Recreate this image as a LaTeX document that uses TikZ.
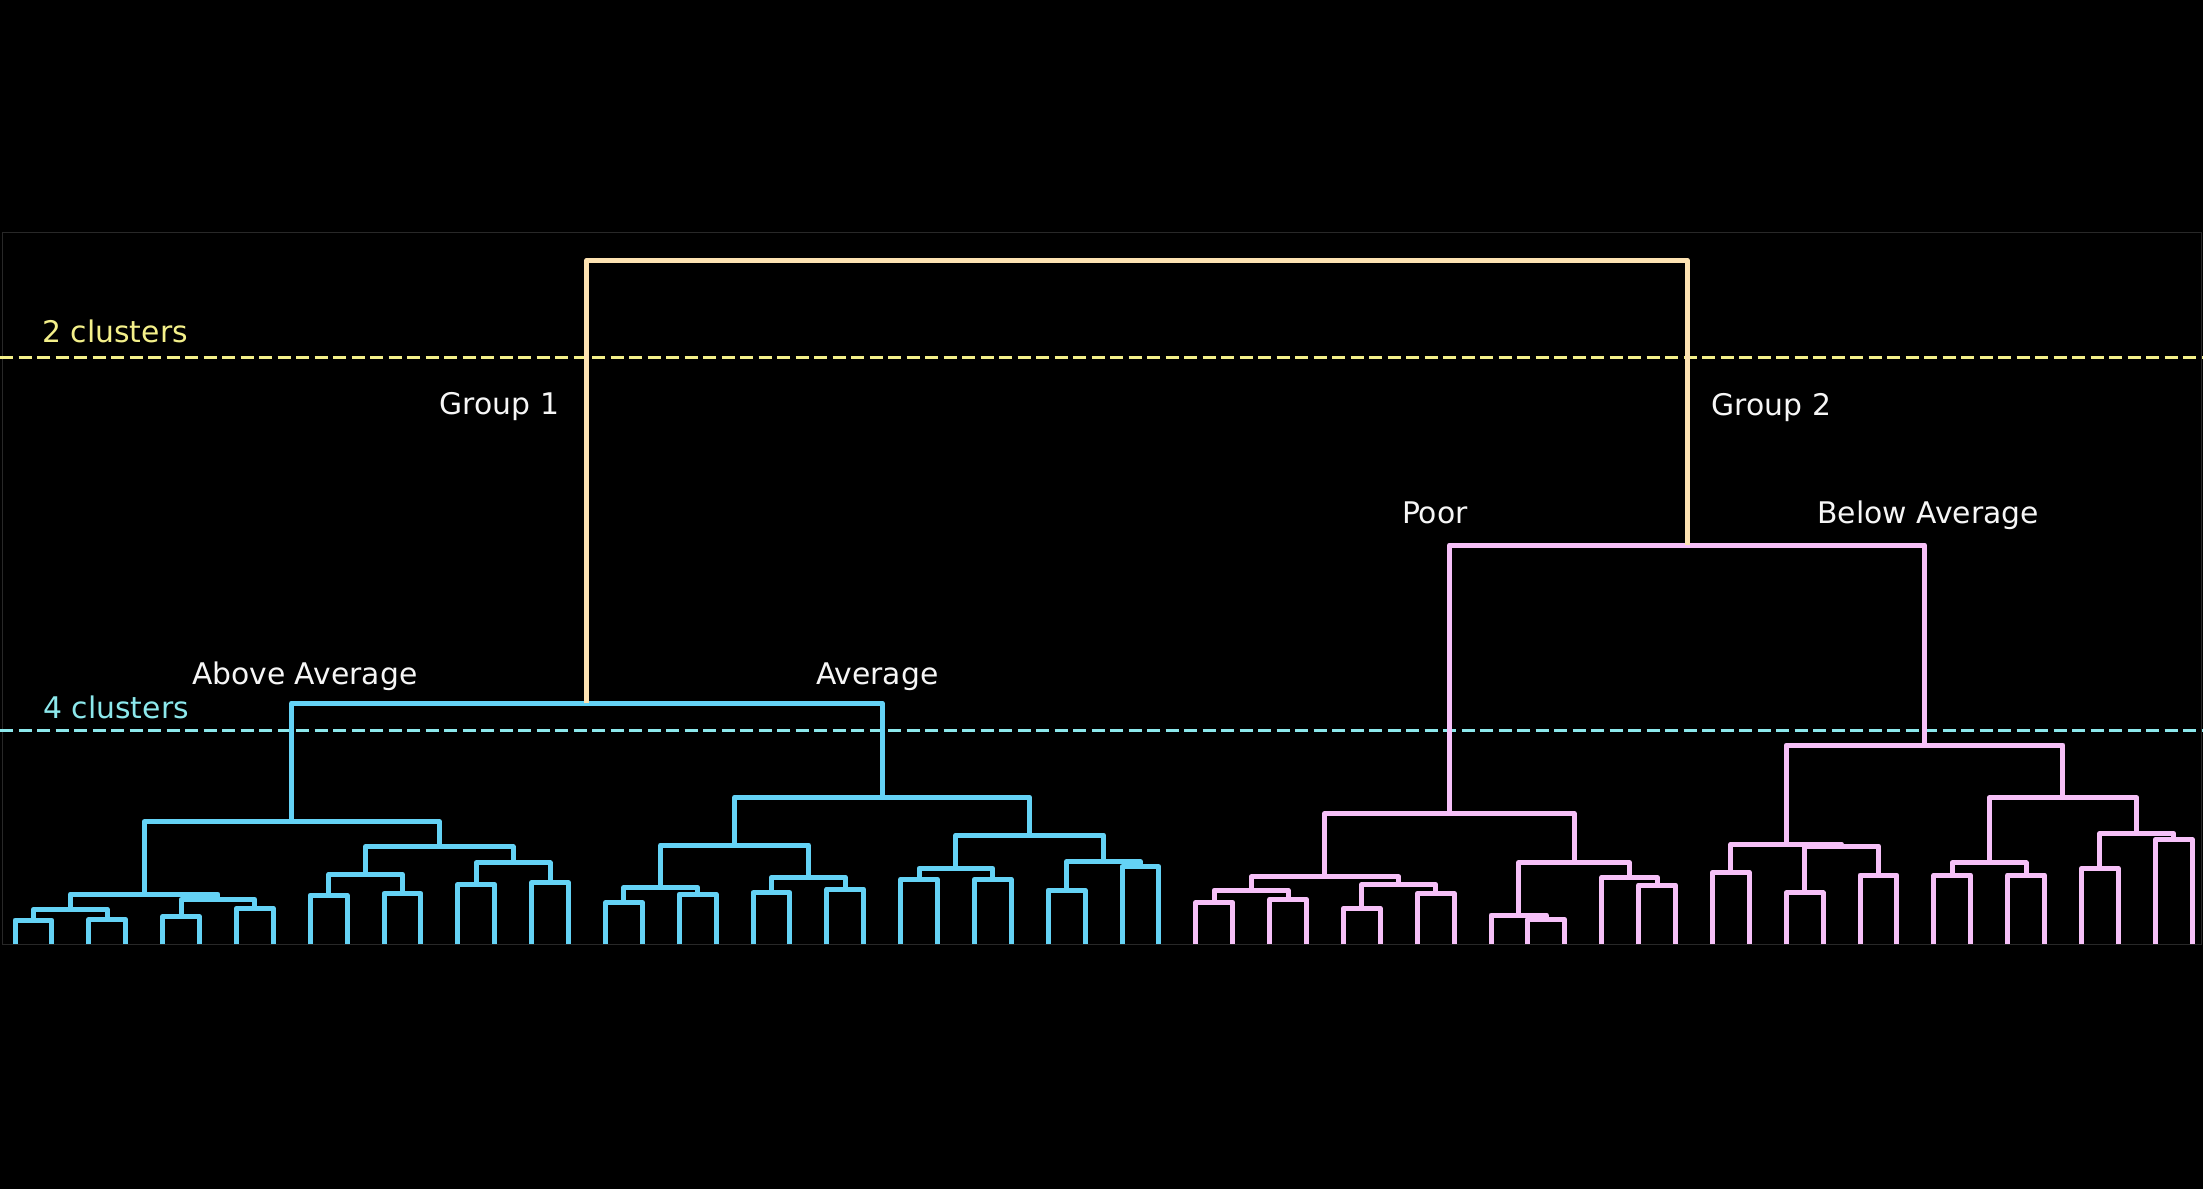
\documentclass[tikz,border=0pt]{standalone}
\usepackage{fontspec}
\setmainfont{DejaVu Sans}
\usetikzlibrary{calc}
\definecolor{cblue}{RGB}{100,210,245}
\definecolor{cturq}{RGB}{140,232,236}
\definecolor{cpink}{RGB}{246,192,248}
\definecolor{ccream}{RGB}{253,226,178}
\definecolor{cyellow}{RGB}{244,240,138}
\definecolor{cwhite}{RGB}{246,246,246}
\definecolor{cframe}{RGB}{40,40,40}
\tikzset{
  treeline/.style={line width=2.5pt, line join=round, line cap=butt},
  bl/.style={treeline, draw=cblue},
  pk/.style={treeline, draw=cpink},
  yl/.style={treeline, draw=ccream},
  cutline/.style={line width=1.6pt, dash pattern=on 6.5pt off 2.75pt},
  lbl/.style={inner sep=0pt, outer sep=0pt, font=\fontsize{14.9}{17}\selectfont, text=cwhite},
}
\newcommand{\mrg}[5]{%
  \path let \p1=($(#2)!0.5!(#3)$) in (\x1,{-0.5*#4pt}) coordinate (#1);
  \draw[#5] (#2) |- (#1) -| (#3);
}
\begin{document}
\begin{tikzpicture}[x=0.5pt,y=-0.5pt]
\useasboundingbox (0,0) rectangle (2203,1189);
\fill[black] (0,0) rectangle (2203,1189);
% axes frame
\coordinate (f1) at (2,232);
\coordinate (f2) at (2201,944);
\draw[cframe, line width=0.5pt] (f1) rectangle (f2);
% cut lines
\coordinate (c2l) at (0,357.5);
\coordinate (c2r) at (2203,357.5);
\coordinate (c4l) at (0,730.5);
\coordinate (c4r) at (2203,730.5);
\draw[cutline, draw=cyellow] (c2l) -- (c2r);
\draw[cutline, draw=cturq] (c4l) -- (c4r);
% leaves
\foreach \i in {0,...,59} {\coordinate (L\i) at ({15+36.9*\i},944);}
% ---- Above Average
\mrg{b01}{L0}{L1}{920}{bl}
\mrg{b23}{L2}{L3}{919.3}{bl}
\mrg{b03}{b01}{b23}{909.3}{bl}
\mrg{b45}{L4}{L5}{916.7}{bl}
\mrg{b67}{L6}{L7}{908.3}{bl}
\mrg{b47}{b45}{b67}{899.3}{bl}
\mrg{b07}{b03}{b47}{894}{bl}
\mrg{b89}{L8}{L9}{895}{bl}
\mrg{b1011}{L10}{L11}{893.3}{bl}
\mrg{b811}{b89}{b1011}{874.3}{bl}
\mrg{b1213}{L12}{L13}{884.3}{bl}
\mrg{b1415}{L14}{L15}{882.7}{bl}
\mrg{b1215}{b1213}{b1415}{862.7}{bl}
\mrg{b815}{b811}{b1215}{846.7}{bl}
\mrg{AA}{b07}{b815}{821.7}{bl}
% ---- Average
\mrg{b1617}{L16}{L17}{902.7}{bl}
\mrg{b1819}{L18}{L19}{894}{bl}
\mrg{b1619}{b1617}{b1819}{887.3}{bl}
\mrg{b2021}{L20}{L21}{892.7}{bl}
\mrg{b2223}{L22}{L23}{889}{bl}
\mrg{b2023}{b2021}{b2223}{877.3}{bl}
\mrg{b1623}{b1619}{b2023}{845}{bl}
\mrg{b2425}{L24}{L25}{879.3}{bl}
\mrg{b2627}{L26}{L27}{879.3}{bl}
\mrg{b2427}{b2425}{b2627}{868.3}{bl}
\mrg{b2829}{L28}{L29}{890}{bl}
\mrg{b3031}{L30}{L31}{866.7}{bl}
\mrg{b2831}{b2829}{b3031}{861.7}{bl}
\mrg{b2431}{b2427}{b2831}{835}{bl}
\mrg{AV}{b1623}{b2431}{797.3}{bl}
\mrg{G1}{AA}{AV}{703}{bl}
% ---- Poor
\mrg{p3233}{L32}{L33}{902.3}{pk}
\mrg{p3435}{L34}{L35}{899.3}{pk}
\mrg{p3235}{p3233}{p3435}{890}{pk}
\mrg{p3637}{L36}{L37}{908.3}{pk}
\mrg{p3839}{L38}{L39}{893.3}{pk}
\mrg{p3639}{p3637}{p3839}{884.3}{pk}
\mrg{p3239}{p3235}{p3639}{876.7}{pk}
\mrg{p4142}{L41}{L42}{919.3}{pk}
\mrg{p4042}{L40}{p4142}{915}{pk}
\mrg{p4445}{L44}{L45}{885}{pk}
\mrg{p4345}{L43}{p4445}{877.3}{pk}
\mrg{p4045}{p4042}{p4345}{862.7}{pk}
\mrg{PO}{p3239}{p4045}{813.3}{pk}
% ---- Below Average
\mrg{p4647}{L46}{L47}{872.3}{pk}
\mrg{p4849}{L48}{L49}{892.7}{pk}
\mrg{p5051}{L50}{L51}{875}{pk}
\mrg{p4851}{p4849}{p5051}{846}{pk}
\mrg{p4651}{p4647}{p4851}{844}{pk}
\mrg{p5253}{L52}{L53}{875}{pk}
\mrg{p5455}{L54}{L55}{875}{pk}
\mrg{p5255}{p5253}{p5455}{862.7}{pk}
\mrg{p5657}{L56}{L57}{868.3}{pk}
\mrg{p5859}{L58}{L59}{839.3}{pk}
\mrg{p5659}{p5657}{p5859}{833.3}{pk}
\mrg{p5259}{p5255}{p5659}{797.7}{pk}
\mrg{BA}{p4651}{p5259}{745}{pk}
\mrg{G2}{PO}{BA}{545}{pk}
% ---- root
\mrg{R}{G1}{G2}{260}{yl}
% labels
\node[lbl, text=cyellow, anchor=base west] (t2) at (42.5,342.7) {2 clusters};
\node[lbl, text=cturq, anchor=base west] (t4) at (43.5,718.3) {4 clusters};
\node[lbl, anchor=base east] (g1) at (559,414) {Group 1};
\node[lbl, anchor=base west] (g2) at (1711.8,415) {Group 2};
\node[lbl, anchor=base west] (poor) at (1402,523.3) {Poor};
\node[lbl, anchor=base west] (below) at (1817.5,523.3) {Below Average};
\node[lbl, anchor=base west] (above) at (192,684.3) {Above Average};
\node[lbl, anchor=base west] (avg) at (816,684) {Average};
\end{tikzpicture}
\end{document}
